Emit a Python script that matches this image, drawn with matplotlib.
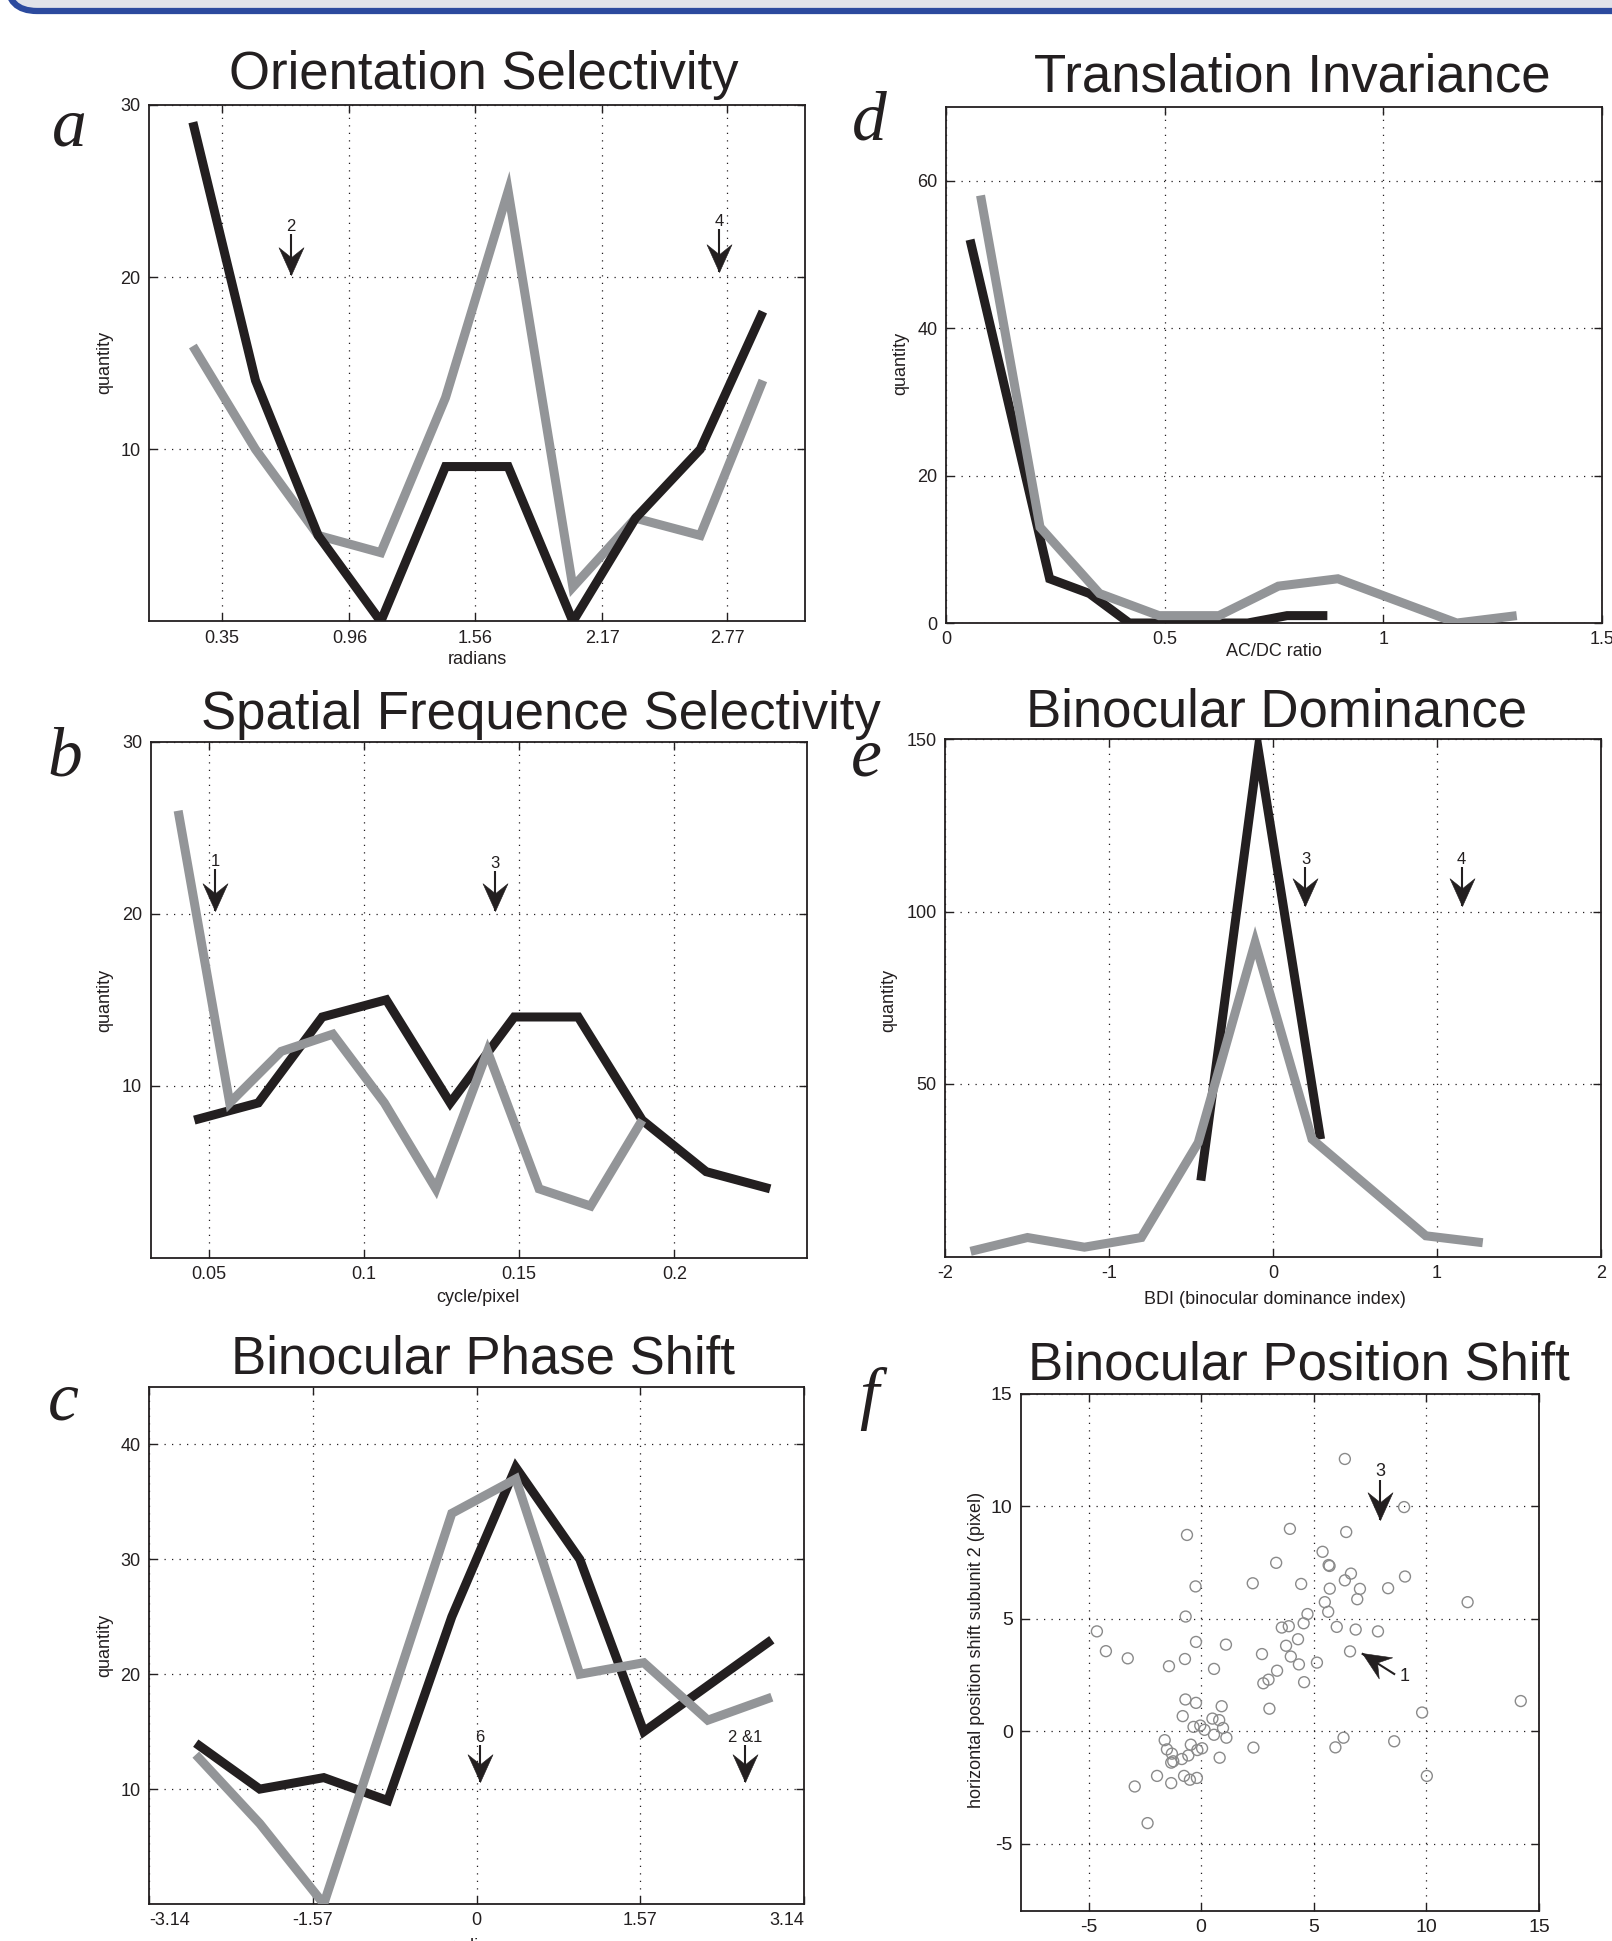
import numpy as np
import matplotlib.pyplot as plt
from matplotlib.patches import FancyBboxPatch
from matplotlib.path import Path

plt.rcParams['font.family'] = ['Liberation Sans', 'DejaVu Sans']

W, H = 1612, 1941
INK = '#231f20'
GRAY = '#939598'

# a - orientation selectivity
orient_x = [0.21, 0.51, 0.81, 1.11, 1.42, 1.72, 2.03, 2.33, 2.64, 2.94]
orient_black = [29, 14, 5, 0, 9, 9, 0, 6, 10, 18]
orient_gray = [16, 10, 5, 4, 13, 25, 2, 6, 5, 14]
orient_ticks = [0.35, 0.96, 1.56, 2.17, 2.77]

# d - translation invariance
trans_x_black = [0.055, 0.146, 0.237, 0.328, 0.419, 0.51, 0.60, 0.69, 0.78, 0.872]
trans_black = [52, 29, 6, 4, 0, 0, 0, 0, 1, 1]
trans_x_gray = [0.079, 0.215, 0.351, 0.487, 0.624, 0.760, 0.896, 1.032, 1.168, 1.305]
trans_gray = [58, 13, 4, 1, 1, 5, 6, 3, 0, 1]

# b - spatial frequency
spatial_x_black = [0.0454, 0.066, 0.0866, 0.1072, 0.1278, 0.1484, 0.169, 0.1896, 0.2102, 0.2308]
spatial_black = [8, 9, 14, 15, 9, 14, 14, 8, 5, 4]
spatial_x_gray = [0.0402, 0.0568, 0.0734, 0.09, 0.1066, 0.1232, 0.1398, 0.1564, 0.173, 0.1896]
spatial_gray = [26, 9, 12, 13, 9, 4, 12, 4, 3, 8]

# e - binocular dominance
bdi_x_black = [-0.44, -0.09, 0.29]
bdi_black = [22, 147, 34]
bdi_x_gray = [-1.844, -1.497, -1.15, -0.803, -0.456, -0.109, 0.238, 0.585, 0.932, 1.279]
bdi_gray = [1.5, 5.5, 2.7, 5.5, 33, 91, 34, 20, 6, 4]

# c - binocular phase shift
phase_x = [-2.693, -2.079, -1.465, -0.851, -0.237, 0.377, 0.991, 1.605, 2.219, 2.833]
phase_black = [14, 10, 11, 9, 25, 38, 30, 15, 19, 23]
phase_gray = [13, 7, 0, 17, 34, 37, 20, 21, 16, 18]
phase_ticks = [-3.14, -1.57, 0, 1.57, 3.14]

# f - binocular position shift
shift_x = [6.38, 9.01, -0.63, 3.94, 6.44, 5.39, 3.33, 5.66, 5.70, 6.65, 6.38, 2.29, 4.44,
           -0.25, 5.71, 7.05, 8.30, 9.05, 6.93, 11.83, 5.49, 4.72, 5.64, -0.69, 4.55, 3.58,
           3.89, 6.02, 6.86, 7.85, -4.63, -4.23, -3.26, -0.23, 1.10, 4.30, 3.77, 6.61, 3.98,
           2.70, -0.72, -1.43, 4.34, 5.14, 0.57, 3.37, 2.99, 2.76, 4.57, -0.70, -0.23, 0.91,
           3.03, -0.82, 9.81, 14.19, 0.50, 0.80, -0.34, -0.04, 0.97, 0.15, 0.57, 1.12, 6.32,
           -1.62, 8.57, -1.52, -0.46, 5.96, 2.32, 0.04, -0.17, -1.30, -0.57, -0.86, -1.24,
           -1.33, 0.82, -1.96, -0.76, -0.50, -0.19, -1.33, -2.95, 10.02, -2.38]
shift_y = [12.11, 9.97, 8.73, 9.00, 8.86, 7.98, 7.49, 7.39, 7.35, 7.01, 6.71, 6.58, 6.55,
           6.44, 6.34, 6.33, 6.36, 6.88, 5.87, 5.74, 5.74, 5.21, 5.31, 5.10, 4.80, 4.61,
           4.67, 4.64, 4.52, 4.44, 4.44, 3.56, 3.24, 3.97, 3.85, 4.09, 3.80, 3.55, 3.32,
           3.43, 3.21, 2.89, 2.97, 3.05, 2.77, 2.69, 2.29, 2.13, 2.18, 1.41, 1.26, 1.11,
           1.00, 0.67, 0.83, 1.34, 0.56, 0.49, 0.19, 0.25, 0.14, 0.06, -0.16, -0.29, -0.29,
           -0.40, -0.45, -0.81, -0.60, -0.72, -0.73, -0.76, -0.84, -1.00, -1.08, -1.24, -1.34,
           -1.40, -1.18, -1.99, -1.99, -2.16, -2.08, -2.31, -2.46, -1.99, -4.09]

# notched arrow head, pointing down, tip at the origin
HEAD = np.array([[0, 0], [-0.45, 1], [0, 0.64], [0.45, 1], [0, 0]])
HEAD_CODES = [Path.MOVETO, Path.LINETO, Path.LINETO, Path.LINETO, Path.CLOSEPOLY]
HEAD_SIZE = 40


def px_axes(fig, left, top, right, bottom):
    """axes placed by pixel edges (top-left origin)"""
    return fig.add_axes([left / W, 1 - bottom / H, (right - left) / W, (bottom - top) / H])


def ftext(fig, x, y, s, **kw):
    fig.text(x / W, 1 - y / H, s, color=INK, **kw)


def style(ax, xlim, ylim, xticks, yticks, xlabels=None, size=13):
    ax.set_xlim(xlim)
    ax.set_ylim(ylim)
    ax.set_xticks(xticks, xlabels if xlabels is not None else [f'{t:g}' for t in xticks])
    ax.set_yticks(yticks, [f'{t:g}' for t in yticks])
    ax.grid(True, linestyle=(0, (1, 5)), color=INK, linewidth=0.9)
    ax.tick_params(direction='in', length=6, width=1, top=True, right=True,
                   labelsize=size, colors=INK, pad=6)
    for sp in ax.spines.values():
        sp.set_linewidth(1.3)
        sp.set_color(INK)


def curves(ax, xb, yb, xg, yg, gray_on_top=True):
    kw = dict(lw=6.5, solid_capstyle='butt', solid_joinstyle='miter')
    ax.plot(xb, yb, color=INK, zorder=3 if gray_on_top else 4, **kw)
    ax.plot(xg, yg, color=GRAY, zorder=4 if gray_on_top else 3, **kw)


def arrow_xy(ax, tail, tip):
    """shaft plus a notched head, head drawn as a rotated marker"""
    p0 = ax.transData.transform(tail)
    p1 = ax.transData.transform(tip)
    ang = np.arctan2(p1[1] - p0[1], p1[0] - p0[0]) + np.pi / 2
    rot = np.array([[np.cos(ang), -np.sin(ang)], [np.sin(ang), np.cos(ang)]])
    verts = HEAD @ rot.T
    scale = np.max(np.abs(verts))
    ax.plot([tail[0], tip[0]], [tail[1], tip[1]], color=INK, lw=1.5,
            solid_capstyle='butt', zorder=6, clip_on=False)
    ax.plot([tip[0]], [tip[1]], marker=Path(verts, HEAD_CODES),
            markersize=HEAD_SIZE * scale, color=INK, markeredgewidth=0.4,
            zorder=7, clip_on=False)


def arrow(ax, x, tip, tail, label, size=12):
    arrow_xy(ax, (x, tail), (x, tip))
    ax.text(x, tail, label, ha='center', va='bottom', fontsize=size, color=INK, zorder=6)


fig = plt.figure(figsize=(W / 100, H / 100), dpi=100)

# header band
band = FancyBboxPatch((0.07, (H - 11) / 100), 17.0, 1.0,
                      boxstyle='round,pad=0,rounding_size=0.3',
                      transform=fig.dpi_scale_trans, facecolor='#e1e3e9',
                      edgecolor='#2c4a9e', linewidth=4.5, clip_on=False)
fig.patches.append(band)

title_kw = dict(fontsize=38, ha='center', va='baseline')
letter_kw = dict(fontsize=50, ha='center', va='baseline', family='Liberation Serif',
                 style='italic')
lab_kw = dict(fontsize=13, ha='center', va='center')

# a
ax = px_axes(fig, 149, 105, 805, 621.5)
style(ax, (0, np.pi), (0, 30), orient_ticks, [10, 20, 30])
curves(ax, orient_x, orient_black, orient_x, orient_gray, gray_on_top=False)
arrow(ax, 0.68, 20.1, 22.5, '2')
arrow(ax, 2.73, 20.3, 22.8, '4')
ftext(fig, 484, 89, 'Orientation Selectivity', **title_kw)
ftext(fig, 69, 145, 'a', **letter_kw)
ftext(fig, 477, 659, 'radians', **lab_kw)
ftext(fig, 105, 362, 'quantity', rotation=90, **lab_kw)

# d
ax = px_axes(fig, 946, 107, 1602, 623)
style(ax, (0, 1.5), (0, 70), [0, 0.5, 1, 1.5], [0, 20, 40, 60])
curves(ax, trans_x_black, trans_black, trans_x_gray, trans_gray)
ftext(fig, 1292, 92, 'Translation Invariance', **title_kw)
ftext(fig, 869, 139, 'd', **letter_kw)
ftext(fig, 1274, 651, 'AC/DC ratio', **lab_kw)
ftext(fig, 901, 363, 'quantity', rotation=90, **lab_kw)

# b
ax = px_axes(fig, 150.5, 742, 806.5, 1257.6)
style(ax, (0.0313, 0.2425), (0, 30), [0.05, 0.1, 0.15, 0.2], [10, 20, 30])
curves(ax, spatial_x_black, spatial_black, spatial_x_gray, spatial_gray)
arrow(ax, 0.0522, 20.15, 22.6, '1')
arrow(ax, 0.1422, 20.15, 22.5, '3')
ftext(fig, 541, 729, 'Spatial Frequence Selectivity', **title_kw)
ftext(fig, 65, 776, 'b', **letter_kw)
ftext(fig, 478, 1297, 'cycle/pixel', **lab_kw)
ftext(fig, 105, 1000, 'quantity', rotation=90, **lab_kw)

# e
ax = px_axes(fig, 945, 739, 1601, 1256.5)
style(ax, (-2, 2), (0, 150), [-2, -1, 0, 1, 2], [50, 100, 150])
curves(ax, bdi_x_black, bdi_black, bdi_x_gray, bdi_gray)
arrow(ax, 0.198, 101.5, 112.9, '3')
arrow(ax, 1.15, 101.5, 112.9, '4')
ftext(fig, 1277, 726, 'Binocular Dominance', **title_kw)
ftext(fig, 866, 776, 'e', **letter_kw)
ftext(fig, 1275, 1299, 'BDI (binocular dominance index)', **lab_kw)
ftext(fig, 889, 1000, 'quantity', rotation=90, **lab_kw)

# c
ax = px_axes(fig, 149, 1387, 804, 1904)
style(ax, (-np.pi, np.pi), (0, 45), phase_ticks, [10, 20, 30, 40],
      xlabels=[f'{t:g}' for t in phase_ticks])
tl = ax.get_xticklabels()
tl[0].set_ha('left')
tl[-1].set_ha('right')
curves(ax, phase_x, phase_black, phase_x, phase_gray)
arrow(ax, 0.035, 10.6, 13.8, '6')
arrow(ax, 2.58, 10.6, 13.8, '2 &1')
ftext(fig, 483, 1373, 'Binocular Phase Shift', **title_kw)
ftext(fig, 63, 1419, 'c', **letter_kw)
ftext(fig, 478, 1947, 'radians', **lab_kw)
ftext(fig, 105, 1645, 'quantity', rotation=90, **lab_kw)

# f
ax = px_axes(fig, 1021, 1394, 1539, 1911)
style(ax, (-8, 15), (-8, 15), [-5, 0, 5, 10, 15], [-5, 0, 5, 10, 15], size=14)
ax.scatter(shift_x, shift_y, s=62, facecolors='none', edgecolors='#8a8a8a',
           linewidths=1.0, zorder=3)
arrow(ax, 7.96, 9.41, 11.16, '3', size=13)
arrow_xy(ax, (8.61, 2.52), (7.13, 3.46))
ax.text(9.05, 2.45, '1', ha='center', va='center', fontsize=13, color=INK)
ftext(fig, 1299, 1379, 'Binocular Position Shift', **title_kw)
ftext(fig, 869, 1416, 'f', **letter_kw)
ftext(fig, 976, 1650, 'horizontal position shift subunit 2 (pixel)', rotation=90, **lab_kw)

fig.savefig('out.png', dpi=100, facecolor='white')
